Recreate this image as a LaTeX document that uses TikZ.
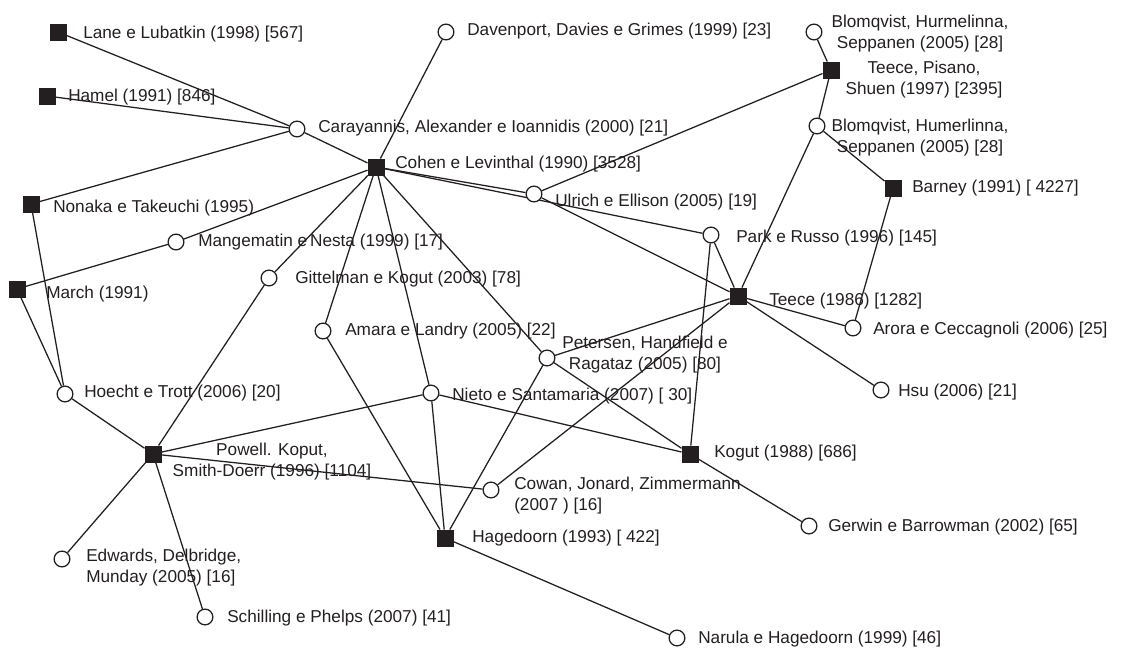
\documentclass[tikz,border=0pt]{standalone}
\usepackage{fontspec}
\setmainfont{Liberation Sans}
\usetikzlibrary{backgrounds}
\definecolor{ink}{HTML}{231F20}
\begin{document}
\begin{tikzpicture}[x=0.75pt,y=-0.75pt,
  sq/.style={draw=ink,fill=ink,rectangle,minimum size=12.3pt,inner sep=0pt},
  ci/.style={draw=ink,fill=white,circle,minimum size=11.8pt,inner sep=0pt,line width=0.95pt},
  lbl/.style={text=ink,inner sep=0pt,font=\fontsize{12.9}{15.5}\selectfont},
  edge/.style={draw=ink,line width=0.95pt}]
\useasboundingbox (0,0) rectangle (1122,649);
% nodes
\node[sq] (lane) at (58,32) {};
\node[sq] (hamel) at (47,96) {};
\node[ci] (cara) at (297,129) {};
\node[sq] (nonaka) at (31,204) {};
\node[sq] (cohen) at (376,167) {};
\node[ci] (dav) at (446,32) {};
\node[ci] (ulrich) at (534,194) {};
\node[ci] (blom1) at (814,32) {};
\node[sq] (tps) at (831,70) {};
\node[ci] (blom2) at (817,126) {};
\node[sq] (barney) at (893,188) {};
\node[ci] (mang) at (176,242) {};
\node[sq] (march) at (17,289) {};
\node[ci] (gitt) at (269,278) {};
\node[ci] (amara) at (323,331) {};
\node[ci] (hoecht) at (65,394) {};
\node[ci] (park) at (711,235) {};
\node[sq] (teece) at (738,296) {};
\node[ci] (peter) at (547,358) {};
\node[ci] (nieto) at (431,393) {};
\node[ci] (arora) at (853,328) {};
\node[ci] (hsu) at (881,390) {};
\node[sq] (powell) at (153,454) {};
\node[ci] (edw) at (62,559) {};
\node[ci] (schil) at (205,617) {};
\node[ci] (cowan) at (491,490) {};
\node[sq] (hage) at (445,538) {};
\node[sq] (kogut) at (690,454) {};
\node[ci] (narula) at (677,638) {};
\node[ci] (gerwin) at (809,526) {};
% labels
\node[lbl,anchor=west] (t-lane) at (83,34.5) {Lane e Lubatkin (1998) [567]};
\node[lbl,anchor=west] (t-hamel) at (68,97.5) {Hamel (1991) [846]};
\node[lbl,anchor=west] (t-cara) at (318,128.5) {Carayannis, Alexander e Ioannidis (2000) [21]};
\node[lbl,anchor=west] (t-nonaka) at (53,208.5) {Nonaka e Takeuchi (1995)};
\node[lbl,anchor=west] (t-dav) at (467,31.5) {Davenport, Davies e Grimes (1999) [23]};
\node[lbl,anchor=west] (t-cohen) at (395,164.5) {Cohen e Levinthal (1990) [3528]};
\node[lbl,anchor=west] (t-ulrich) at (555,202.5) {Ulrich e Ellison (2005) [19]};
\node[lbl,align=center] (t-blom1) at (920,33.5) {Blomqvist, Hurmelinna,\\Seppanen (2005) [28]};
\node[lbl,align=center] (t-tps) at (924,79.5) {Teece, Pisano,\\Shuen (1997) [2395]};
\node[lbl,align=center] (t-blom2) at (920,137.5) {Blomqvist, Humerlinna,\\Seppanen (2005) [28]};
\node[lbl,anchor=west] (t-barney) at (912,188.5) {Barney (1991) [ 4227]};
\node[lbl,anchor=west] (t-park) at (736,238.5) {Park e Russo (1996) [145]};
\node[lbl,anchor=west] (t-mang) at (198,242.5) {Mangematin e\,Nesta (1999) [17]};
\node[lbl,anchor=west] (t-gitt) at (295,279.5) {Gittelman e Kogut (2003) [78]};
\node[lbl,anchor=west] (t-march) at (46,294.5) {March (1991)};
\node[lbl,anchor=west] (t-teece) at (769,301.5) {Teece (1986) [1282]};
\node[lbl,anchor=west] (t-amara) at (345,331.5) {Amara e Landry (2005) [22]};
\node[lbl,anchor=west] (t-arora) at (873,330.5) {Arora e Ceccagnoli (2006) [25]};
\node[lbl,align=center] (t-peter) at (645,354.5) {Petersen, Handfield e\\Ragataz (2005) [80]};
\node[lbl,anchor=west] (t-hoecht) at (84,393.5) {Hoecht e Trott (2006) [20]};
\node[lbl,anchor=west] (t-nieto) at (452,396.5) {Nieto e Santamaria (2007) [ 30]};
\node[lbl,anchor=west] (t-hsu) at (898,392.5) {Hsu (2006) [21]};
\node[lbl,align=center] (t-powell) at (272,461.5) {Powell. Koput,\\Smith-Doerr (1996) [1104]};
\node[lbl,anchor=west] (t-kogut) at (714,453.5) {Kogut (1988) [686]};
\node[lbl,anchor=west,align=left] (t-cowan) at (514,495.5) {Cowan, Jonard, Zimmermann\\(2007 ) [16]};
\node[lbl,anchor=west] (t-gerwin) at (828,527.5) {Gerwin e Barrowman (2002) [65]};
\node[lbl,anchor=west] (t-hage) at (472,538.5) {Hagedoorn (1993) [ 422]};
\node[lbl,anchor=west,align=left] (t-edw) at (86,567.5) {Edwards, Delbridge,\\Munday (2005) [16]};
\node[lbl,anchor=west] (t-schil) at (227,618.5) {Schilling e Phelps (2007) [41]};
\node[lbl,anchor=west] (t-narula) at (698,639.5) {Narula e Hagedoorn (1999) [46]};
% edges
\begin{pgfonlayer}{background}
\draw[edge] (lane) -- (cara);
\draw[edge] (hamel) -- (cara);
\draw[edge] (nonaka) -- (cara);
\draw[edge] (cara) -- (cohen);
\draw[edge] (dav) -- (cohen);
\draw[edge] (cohen) -- (ulrich);
\draw[edge] (cohen) -- (park);
\draw[edge] (ulrich) -- (tps);
\draw[edge] (ulrich) -- (teece);
\draw[edge] (tps) -- (blom1);
\draw[edge] (tps) -- (blom2);
\draw[edge] (blom2) -- (barney);
\draw[edge] (blom2) -- (teece);
\draw[edge] (barney) -- (arora);
\draw[edge] (park) -- (teece);
\draw[edge] (park) -- (kogut);
\draw[edge] (teece) -- (arora);
\draw[edge] (teece) -- (hsu);
\draw[edge] (teece) -- (peter);
\draw[edge] (teece) -- (cowan);
\draw[edge] (cohen) -- (mang);
\draw[edge] (mang) -- (march);
\draw[edge] (nonaka) -- (hoecht);
\draw[edge] (march) -- (hoecht);
\draw[edge] (cohen) -- (gitt);
\draw[edge] (gitt) -- (powell);
\draw[edge] (cohen) -- (amara);
\draw[edge] (cohen) -- (nieto);
\draw[edge] (cohen) -- (peter);
\draw[edge] (amara) -- (hage);
\draw[edge] (nieto) -- (hage);
\draw[edge] (peter) -- (hage);
\draw[edge] (peter) -- (kogut);
\draw[edge] (nieto) -- (kogut);
\draw[edge] (nieto) -- (powell);
\draw[edge] (hoecht) -- (powell);
\draw[edge] (powell) -- (edw);
\draw[edge] (powell) -- (schil);
\draw[edge] (powell) -- (cowan);
\draw[edge] (kogut) -- (gerwin);
\draw[edge] (hage) -- (narula);
\end{pgfonlayer}
\end{tikzpicture}
\end{document}
